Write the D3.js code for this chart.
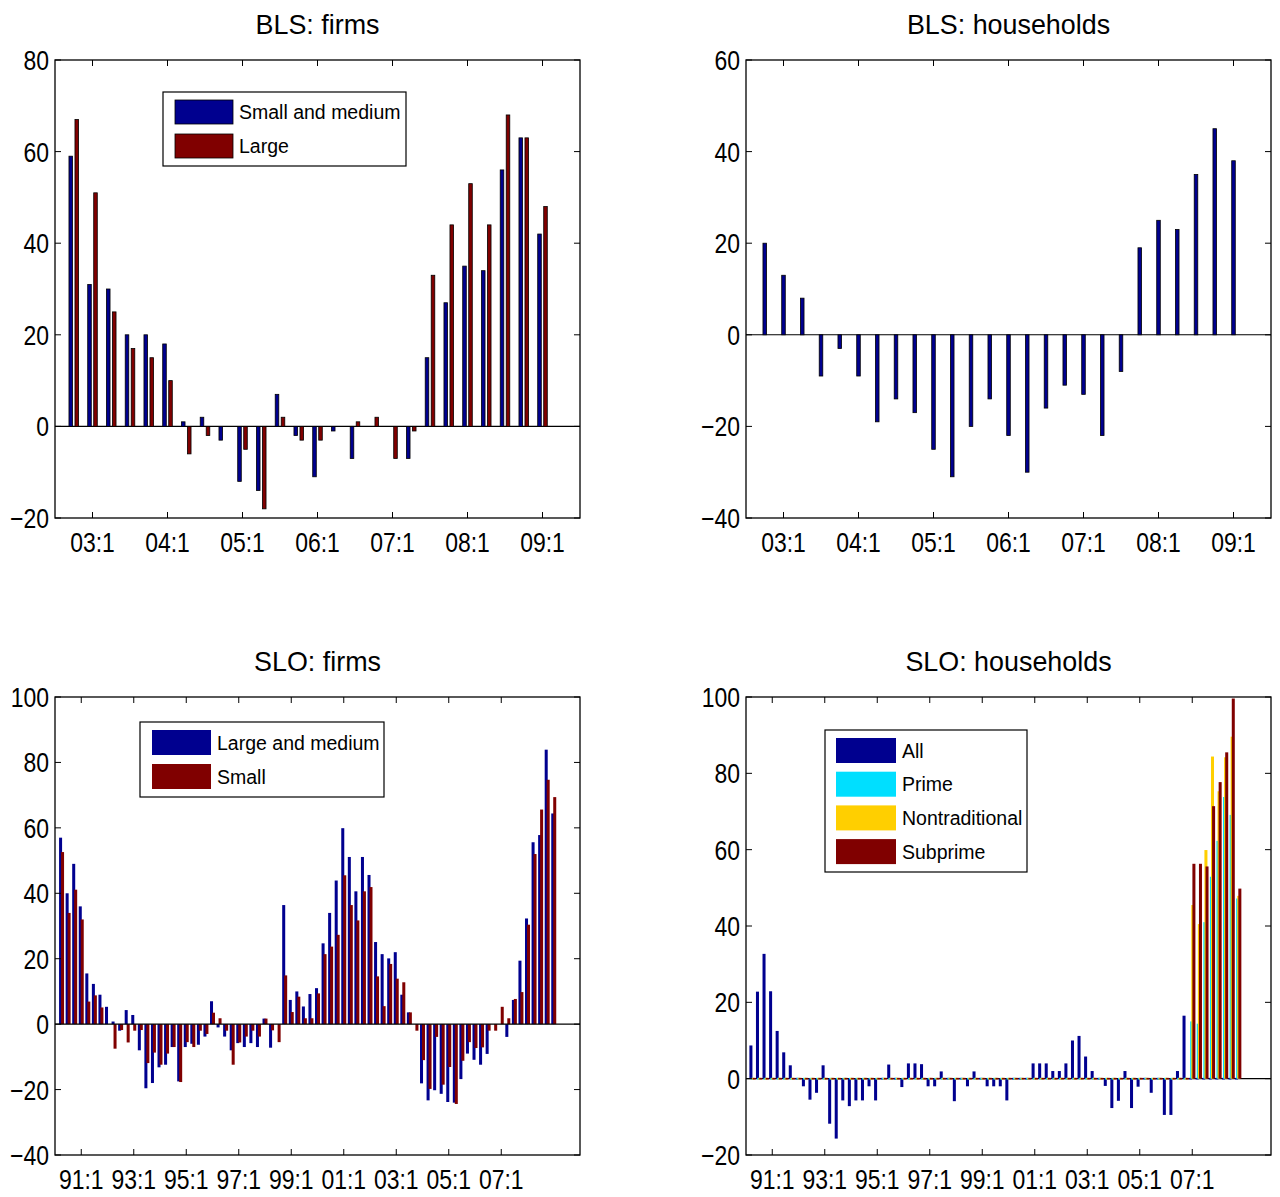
<!DOCTYPE html>
<html>
<head>
<meta charset="utf-8">
<script src="https://cdn.jsdelivr.net/npm/d3@7"></script>
<style>
  body { margin: 0; background: #fff; }
  svg text { font-family: "Liberation Sans", Arial, Helvetica, sans-serif; fill: #000; }
</style>
</head>
<body>
<svg id="fig" width="1280" height="1197"></svg>
<script>
// ---------- categories (quarters, "yy:q") ----------
const BLS_QUARTERS = [
  "02:4",
  "03:1","03:2","03:3","03:4","04:1","04:2","04:3","04:4",
  "05:1","05:2","05:3","05:4","06:1","06:2","06:3","06:4",
  "07:1","07:2","07:3","07:4","08:1","08:2","08:3","08:4",
  "09:1"
];
const SLO_QUARTERS = [
  "90:2","90:3","90:4",
  "91:1","91:2","91:3","91:4","92:1","92:2","92:3","92:4",
  "93:1","93:2","93:3","93:4","94:1","94:2","94:3","94:4",
  "95:1","95:2","95:3","95:4","96:1","96:2","96:3","96:4",
  "97:1","97:2","97:3","97:4","98:1","98:2","98:3","98:4",
  "99:1","99:2","99:3","99:4","00:1","00:2","00:3","00:4",
  "01:1","01:2","01:3","01:4","02:1","02:2","02:3","02:4",
  "03:1","03:2","03:3","03:4","04:1","04:2","04:3","04:4",
  "05:1","05:2","05:3","05:4","06:1","06:2","06:3","06:4",
  "07:1","07:2","07:3","07:4","08:1","08:2","08:3","08:4",
  "09:1"
];

// ---------- tick labels ----------
const BLS_TICKS = ["03:1","04:1","05:1","06:1","07:1","08:1","09:1"];
const SLO_TICKS = ["91:1","93:1","95:1","97:1","99:1","01:1","03:1","05:1","07:1"];
const BLS_FIRMS_YTICKS = [-20, 0, 20, 40, 60, 80];
const BLS_HH_YTICKS = [-40, -20, 0, 20, 40, 60];
const SLO_FIRMS_YTICKS = [-40, -20, 0, 20, 40, 60, 80, 100];
const SLO_HH_YTICKS = [-20, 0, 20, 40, 60, 80, 100];

// ---------- series ----------
const BLS_FIRMS_SMALL_MEDIUM = [59,31,30,20,20,18,1,2,-3,-12,-14,7,-2,-11,-1,-7,0,0,-7,15,27,35,34,56,63,42];
const BLS_FIRMS_LARGE        = [67,51,25,17,15,10,-6,-2,0,-5,-18,2,-3,-3,0,1,2,-7,-1,33,44,53,44,68,63,48];

const BLS_HOUSEHOLDS = [20,13,8,-9,-3,-9,-19,-14,-17,-25,-31,-20,-14,-22,-30,-16,-11,-13,-22,-8,19,25,23,35,45,38];

const SLO_FIRMS_LARGE_MEDIUM = [
  57,40,49,36,15.5,12.3,9,5.3,0.8,-2,
  4.3,2.8,-8,-19.6,-18,-13.2,-12.4,-7,-17.5,-7,
  -6,-6.3,-3.8,7,-1,-3.8,-8,-5.8,-7,-5.8,
  -7,1.7,-7.2,0,36.4,7.4,10,5.4,9.2,11,
  24.7,34,43.9,59.9,51.1,40.6,51.1,45.6,25.1,21.4,
  20.1,22,9,3.6,0,-18.1,-23.3,-20.2,-21.3,-23.8,
  -24,-16.8,-9,-10.9,-12.4,-9.1,0,0,-3.9,7.4,
  19.4,32.3,55.6,57.8,83.9,64.4
];
const SLO_FIRMS_SMALL = [
  52.6,34,41.1,32,6.9,8.8,5.1,0,-7.5,-1.8,
  -5.6,-2,-1.8,-11.9,-8.7,-12.4,-9,-7,-17.7,-5.5,
  -7,-2,-3,3.5,1.8,-2,-12.4,-5.6,-3.8,-2,
  -3.8,1.7,-1.9,-5.5,14.9,3.7,8.4,1.8,1.8,9.4,
  21.4,23.7,27.3,45.5,36.4,31.7,40.6,41.9,14.6,5.5,
  18.4,13.9,12.8,3.6,-2,-11,-19.8,-3.9,-18.5,-13.1,
  -24.4,-11.2,-5.5,-7.3,-7.1,-2,-2,5.3,1.8,7.7,
  9.8,30.4,52,65.6,74.7,69.4
];

const SLO_HH_ALL = [
  8.7,22.8,32.7,22.9,12.5,6.9,3.5,0,-2,-5.5,
  -3.7,3.5,-11.8,-15.7,-5.7,-7.2,-5.7,-5.7,-2,-5.7,
  0,3.7,0,-2.2,4,4,3.8,-2,-2,1.9,
  0,-5.9,0,-2,1.9,0,-2,-2,-2,-5.7,
  0,0,0,4,4,4,2,2,4,10,
  11.2,5.8,2,0,-1.9,-7.7,-5.8,2,-7.7,-2.1,
  0,-3.7,0,-9.5,-9.5,2,16.5,0,0,0,
  0,0,0,0,0
];
const SLO_HH_PRIME = [
  0,0,0,0,0,0,0,0,0,0, 0,0,0,0,0,0,0,0,0,0,
  0,0,0,0,0,0,0,0,0,0, 0,0,0,0,0,0,0,0,0,0,
  0,0,0,0,0,0,0,0,0,0, 0,0,0,0,0,0,0,0,0,0,
  0,0,0,0,0,0,0,15.0,14.4,41.0,
  52.9,62.3,73.8,69.1,47.2
];
const SLO_HH_NONTRADITIONAL = [
  0,0,0,0,0,0,0,0,0,0, 0,0,0,0,0,0,0,0,0,0,
  0,0,0,0,0,0,0,0,0,0, 0,0,0,0,0,0,0,0,0,0,
  0,0,0,0,0,0,0,0,0,0, 0,0,0,0,0,0,0,0,0,0,
  0,0,0,0,0,0,0,45.5,40.5,59.9,
  84.4,75.3,84.2,89.6,47.9
];
const SLO_HH_SUBPRIME = [
  0,0,0,0,0,0,0,0,0,0, 0,0,0,0,0,0,0,0,0,0,
  0,0,0,0,0,0,0,0,0,0, 0,0,0,0,0,0,0,0,0,0,
  0,0,0,0,0,0,0,0,0,0, 0,0,0,0,0,0,0,0,0,0,
  0,0,0,0,0,0,0,56.3,56.3,55.6,
  71.4,77.7,85.5,99.6,49.8
];

// ---------- colours (jet colormap ends / stops) ----------
const DARK_BLUE = "#00008f";
const DARK_RED = "#800000";
const CYAN = "#00dfff";
const YELLOW = "#ffcf00";

// ---------- helpers ----------
const FONT_TICK = 28, TICK_SX = 0.82;
const FONT_TITLE = 28, TITLE_SX = 0.96;
const FONT_LEGEND = 19.5;
const fmt = d3.format("d");

function qidx(s) {
  const yy = +s.slice(0, 2);
  const year = yy >= 50 ? 1900 + yy : 2000 + yy;
  return year * 4 + (+s.slice(3)) - 1;
}

function putText(parent, x, y, txt, size, sx, anchor) {
  parent.append("text")
    .attr("transform", `translate(${x},${y}) scale(${sx},1)`)
    .attr("text-anchor", anchor)
    .style("font-size", size + "px")
    .text(txt);
}

const svg = d3.select("#fig");
const W = 525, H = 458;

function drawPanel(cfg) {
  const g = svg.append("g").attr("transform", `translate(${cfg.left},${cfg.top})`);
  const x = d3.scaleLinear().domain(cfg.xDomain.map(qidx)).range([0, W]);
  const y = d3.scaleLinear().domain(cfg.yDomain).range([H, 0]);
  const step = x(cfg.xDomain.map(qidx)[0] + 1) - x(cfg.xDomain.map(qidx)[0]);

  const clipId = "clip-" + cfg.id;
  g.append("clipPath").attr("id", clipId)
    .append("rect").attr("x", 0).attr("y", 0).attr("width", W).attr("height", H);

  const plot = g.append("g").attr("clip-path", `url(#${clipId})`);

  const drawBaseline = () => plot.append("line")
    .attr("x1", 0).attr("x2", W).attr("y1", y(0)).attr("y2", y(0))
    .attr("stroke", "#000").attr("stroke-width", 1.1);

  if (!cfg.baselineOnTop) drawBaseline();

  cfg.series.forEach((s, i) => {
    const off = cfg.offsets[i] * step;
    const bw = cfg.barWidth * step;
    const rows = s.values.map((v, j) => ({ v, q: qidx(cfg.categories[j]) }));
    plot.append("g").selectAll("rect")
      .data(rows.filter(d => d.v !== 0 || cfg.zeroMarks))
      .join("rect")
      .attr("x", d => x(d.q) + off - bw / 2)
      .attr("width", bw)
      .attr("y", d => d.v === 0 ? y(0) - 0.8 : y(Math.max(0, d.v)))
      .attr("height", d => d.v === 0 ? 1.6 : Math.abs(y(d.v) - y(0)))
      .attr("fill", s.color)
      .attr("stroke", cfg.edges ? "#000" : "none")
      .attr("stroke-width", 0.8);
  });

  if (cfg.baselineOnTop) drawBaseline();

  // frame
  g.append("rect").attr("x", 0).attr("y", 0).attr("width", W).attr("height", H)
    .attr("fill", "none").attr("stroke", "#000").attr("stroke-width", 1.3);

  // inward ticks on all four sides
  const TL = 6;
  const ticks = g.append("g").attr("stroke", "#000").attr("stroke-width", 1);
  cfg.xTicks.forEach(t => {
    const px = x(qidx(t));
    ticks.append("line").attr("x1", px).attr("x2", px).attr("y1", H).attr("y2", H - TL);
    ticks.append("line").attr("x1", px).attr("x2", px).attr("y1", 0).attr("y2", TL);
    putText(g, px, H + 34, t, FONT_TICK, TICK_SX, "middle");
  });
  cfg.yTicks.forEach(t => {
    const py = y(t);
    ticks.append("line").attr("x1", 0).attr("x2", TL).attr("y1", py).attr("y2", py);
    ticks.append("line").attr("x1", W).attr("x2", W - TL).attr("y1", py).attr("y2", py);
    putText(g, -6, py + 10, fmt(t), FONT_TICK, TICK_SX, "end");
  });

  // title
  putText(g, W / 2, -26, cfg.title, FONT_TITLE, TITLE_SX, "middle");

  // legend
  if (cfg.legend) {
    const L = cfg.legend;
    const lg = g.append("g").attr("transform", `translate(${L.x},${L.y})`);
    lg.append("rect").attr("x", 0).attr("y", 0).attr("width", L.w).attr("height", L.h)
      .attr("fill", "#fff").attr("stroke", "#000").attr("stroke-width", 1.2);
    cfg.series.forEach((s, i) => {
      const ry = L.rowTop + i * L.pitch;
      lg.append("rect").attr("x", L.swX).attr("y", ry).attr("width", L.swW).attr("height", L.swH)
        .attr("fill", s.color)
        .attr("stroke", cfg.edges ? "#000" : "none").attr("stroke-width", 0.8);
      putText(lg, L.textX, ry + L.swH / 2 + 7, s.name, FONT_LEGEND, 1, "start");
    });
  }
}

// BLS: firms
drawPanel({
  id: "bls-firms", title: "BLS: firms", left: 55, top: 60,
  xDomain: ["02:3", "09:3"], yDomain: [-20, 80],
  categories: BLS_QUARTERS, xTicks: BLS_TICKS, yTicks: BLS_FIRMS_YTICKS,
  series: [
    { name: "Small and medium", values: BLS_FIRMS_SMALL_MEDIUM, color: DARK_BLUE },
    { name: "Large", values: BLS_FIRMS_LARGE, color: DARK_RED }
  ],
  offsets: [-0.16, 0.16], barWidth: 0.19, edges: true, zeroMarks: false, baselineOnTop: false,
  legend: { x: 108, y: 32, w: 243, h: 74, swX: 12, swW: 58, swH: 24, rowTop: 8, pitch: 34, textX: 76 }
});

// BLS: households
drawPanel({
  id: "bls-hh", title: "BLS: households", left: 746, top: 60,
  xDomain: ["02:3", "09:3"], yDomain: [-40, 60],
  categories: BLS_QUARTERS, xTicks: BLS_TICKS, yTicks: BLS_HH_YTICKS,
  series: [ { name: "Households", values: BLS_HOUSEHOLDS, color: DARK_BLUE } ],
  offsets: [0], barWidth: 0.19, edges: true, zeroMarks: false, baselineOnTop: false
});

// SLO: firms
drawPanel({
  id: "slo-firms", title: "SLO: firms", left: 55, top: 697,
  xDomain: ["90:1", "10:1"], yDomain: [-40, 100],
  categories: SLO_QUARTERS, xTicks: SLO_TICKS, yTicks: SLO_FIRMS_YTICKS,
  series: [
    { name: "Large and medium", values: SLO_FIRMS_LARGE_MEDIUM, color: DARK_BLUE },
    { name: "Small", values: SLO_FIRMS_SMALL, color: DARK_RED }
  ],
  offsets: [-0.15, 0.15], barWidth: 0.46, edges: false, zeroMarks: false, baselineOnTop: true,
  legend: { x: 85, y: 25, w: 244, h: 75, swX: 12, swW: 59, swH: 25, rowTop: 8, pitch: 34, textX: 77 }
});

// SLO: households
drawPanel({
  id: "slo-hh", title: "SLO: households", left: 746, top: 697,
  xDomain: ["90:1", "10:1"], yDomain: [-20, 100],
  categories: SLO_QUARTERS, xTicks: SLO_TICKS, yTicks: SLO_HH_YTICKS,
  series: [
    { name: "All", values: SLO_HH_ALL, color: DARK_BLUE },
    { name: "Prime", values: SLO_HH_PRIME, color: CYAN },
    { name: "Nontraditional", values: SLO_HH_NONTRADITIONAL, color: YELLOW },
    { name: "Subprime", values: SLO_HH_SUBPRIME, color: DARK_RED }
  ],
  offsets: [-0.252, -0.084, 0.084, 0.252], barWidth: 0.46, edges: false, zeroMarks: true, baselineOnTop: false,
  legend: { x: 79, y: 33, w: 202, h: 142, swX: 11, swW: 60, swH: 25, rowTop: 8, pitch: 33.7, textX: 77 }
});
</script>
</body>
</html>
